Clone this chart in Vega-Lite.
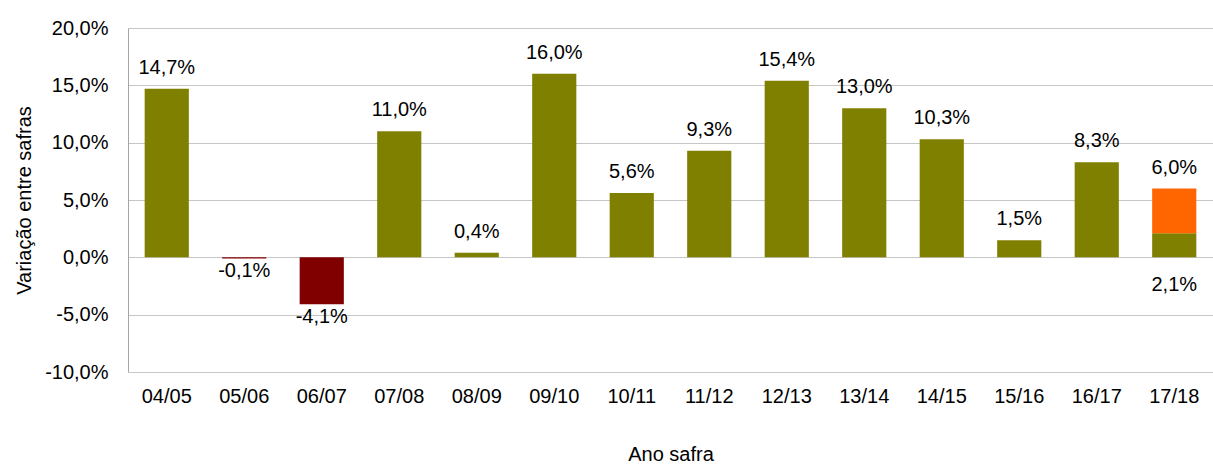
{
  "$schema": "https://vega.github.io/schema/vega-lite/v6.json",
  "width": 1085,
  "height": 344,
  "autosize": {"type": "none"},
  "padding": {"left": 128, "top": 28, "right": 0, "bottom": 92},
  "background": "white",
  "config": {
    "view": {"stroke": null},
    "font": "Liberation Sans",
    "text": {"font": "Liberation Sans"}
  },
  "data": {
    "values": [
      {"safra": "04/05", "inicio": 0, "fim": 14.7, "tipo": "alta"},
      {"safra": "05/06", "inicio": 0, "fim": -0.1, "tipo": "queda"},
      {"safra": "06/07", "inicio": 0, "fim": -4.1, "tipo": "queda"},
      {"safra": "07/08", "inicio": 0, "fim": 11.0, "tipo": "alta"},
      {"safra": "08/09", "inicio": 0, "fim": 0.4, "tipo": "alta"},
      {"safra": "09/10", "inicio": 0, "fim": 16.0, "tipo": "alta"},
      {"safra": "10/11", "inicio": 0, "fim": 5.6, "tipo": "alta"},
      {"safra": "11/12", "inicio": 0, "fim": 9.3, "tipo": "alta"},
      {"safra": "12/13", "inicio": 0, "fim": 15.4, "tipo": "alta"},
      {"safra": "13/14", "inicio": 0, "fim": 13.0, "tipo": "alta"},
      {"safra": "14/15", "inicio": 0, "fim": 10.3, "tipo": "alta"},
      {"safra": "15/16", "inicio": 0, "fim": 1.5, "tipo": "alta"},
      {"safra": "16/17", "inicio": 0, "fim": 8.3, "tipo": "alta"},
      {"safra": "17/18", "inicio": 0, "fim": 2.1, "tipo": "base"},
      {"safra": "17/18", "inicio": 2.1, "fim": 6.0, "tipo": "projeção"}
    ]
  },
  "transform": [
    {"calculate": "replace(replace(format(datum.fim, '.1f'), '.', ','), '−', '-') + '%'", "as": "rotulo"}
  ],
  "encoding": {
    "x": {
      "field": "safra",
      "type": "ordinal",
      "sort": null,
      "scale": {"paddingInner": 0.43, "paddingOuter": 0.215},
      "axis": {
        "title": "Ano safra",
        "labelAngle": 0,
        "labelFontSize": 20,
        "labelColor": "#000000",
        "labelPadding": 14,
        "ticks": false,
        "tickSize": 0,
        "domain": false,
        "titleFontSize": 20,
        "titleFontWeight": "normal",
        "titleColor": "#000000",
        "titlePadding": 38
      }
    }
  },
  "layer": [
    {
      "mark": {"type": "bar"},
      "encoding": {
        "y": {
          "field": "inicio",
          "type": "quantitative",
          "scale": {"domain": [-10, 20], "nice": false, "zero": false},
          "axis": {
            "title": "Variação entre safras",
            "values": [-10, -5, 0, 5, 10, 15, 20],
            "labelExpr": "replace(replace(format(datum.value, '.1f'), '.', ','), '−', '-') + '%'",
            "grid": true,
            "gridColor": "#c6c6c6",
            "gridWidth": 1,
            "domainColor": "#a6a6a6",
            "ticks": false,
            "tickSize": 0,
            "labelFontSize": 20,
            "labelColor": "#000000",
            "labelPadding": 20,
            "titleFontSize": 20,
            "titleFontWeight": "normal",
            "titleColor": "#000000",
            "titlePadding": 10
          }
        },
        "y2": {"field": "fim"},
        "color": {
          "field": "tipo",
          "type": "nominal",
          "scale": {
            "domain": ["alta", "base", "queda", "projeção"],
            "range": ["#808000", "#808000", "#800000", "#FF6600"]
          },
          "legend": null
        }
      }
    },
    {
      "transform": [{"filter": "datum.fim > 0 && datum.tipo != 'base'"}],
      "mark": {"type": "text", "fontSize": 20, "color": "#000000", "baseline": "alphabetic", "dy": -15},
      "encoding": {
        "y": {"field": "fim", "type": "quantitative"},
        "text": {"field": "rotulo"}
      }
    },
    {
      "transform": [{"filter": "datum.fim < 0"}],
      "mark": {"type": "text", "fontSize": 20, "color": "#000000", "baseline": "alphabetic", "dy": 19},
      "encoding": {
        "y": {"field": "fim", "type": "quantitative"},
        "text": {"field": "rotulo"}
      }
    },
    {
      "transform": [{"filter": "datum.tipo == 'base'"}],
      "mark": {"type": "text", "fontSize": 20, "color": "#000000", "baseline": "alphabetic", "dy": 34},
      "encoding": {
        "y": {"field": "inicio", "type": "quantitative"},
        "text": {"field": "rotulo"}
      }
    }
  ]
}
